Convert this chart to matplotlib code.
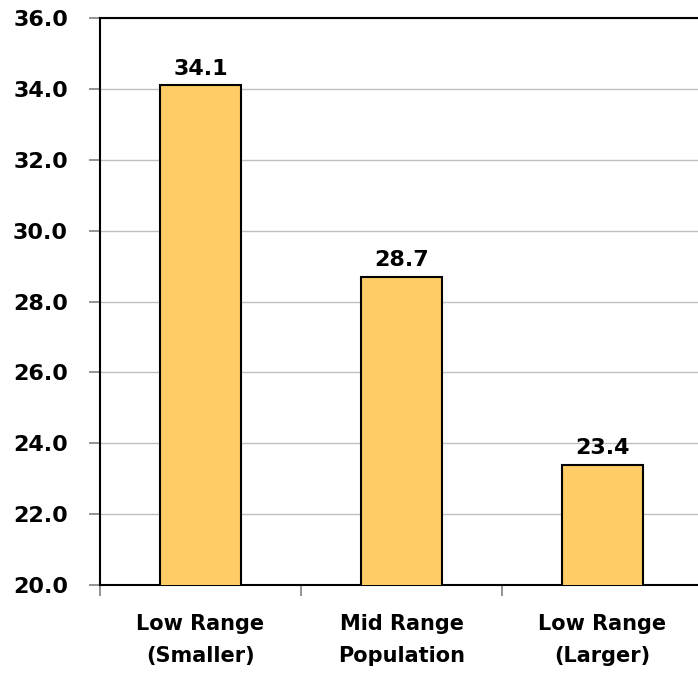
import matplotlib
matplotlib.use("Agg")
import matplotlib.pyplot as plt
import numpy as np

categories = ["Low Range\n(Smaller)", "Mid Range\nPopulation", "Low Range\n(Larger)"]
values = [34.1, 28.7, 23.4]
yticks = [20.0, 22.0, 24.0, 26.0, 28.0, 30.0, 32.0, 34.0, 36.0]

plt.rcParams['font.family'] = ['DejaVu Sans']
plt.rcParams['font.weight'] = 'bold'

fig = plt.figure(figsize=(6.98, 6.74), dpi=100)
ax = fig.add_axes([100/698, 1-585/674, 603/698, (585-18)/674])

x = np.arange(len(categories))
ax.bar(x, values, width=0.4, bottom=0, color="#FFCC66", edgecolor="black", linewidth=1.5, zorder=3)
for xi, v in zip(x, values):
    ax.annotate(f"{v:.1f}", (xi, v), xytext=(0, 7.5), textcoords="offset points",
                ha="center", va="baseline", fontsize=16, fontweight="bold", zorder=4)

ax.set_xlim(-0.5, len(categories) - 0.5)
ax.set_ylim(20, 36)
ax.set_yticks(yticks)
ax.set_yticklabels([f"{t:.1f}" for t in yticks], fontsize=16, fontweight="bold")
ax.yaxis.grid(True, color="#BFBFBF", linewidth=1.0, zorder=0)
ax.set_axisbelow(True)

ax.set_xticks(x)
ax.set_xticklabels(categories, fontsize=15, fontweight="bold", linespacing=1.75)
ax.tick_params(axis="x", length=0, pad=21)
ax.set_xticks(np.arange(-0.5, len(categories) + 0.5, 1), minor=True)
ax.tick_params(axis="x", which="minor", length=8, color="#808080", width=1.2)
ax.tick_params(axis="y", length=8, color="#808080", width=1.2, pad=15)

for s in ["left", "bottom", "top"]:
    ax.spines[s].set_color("black")
    ax.spines[s].set_linewidth(1.5)
ax.spines["right"].set_visible(False)

fig.savefig("out.png", dpi=100)
